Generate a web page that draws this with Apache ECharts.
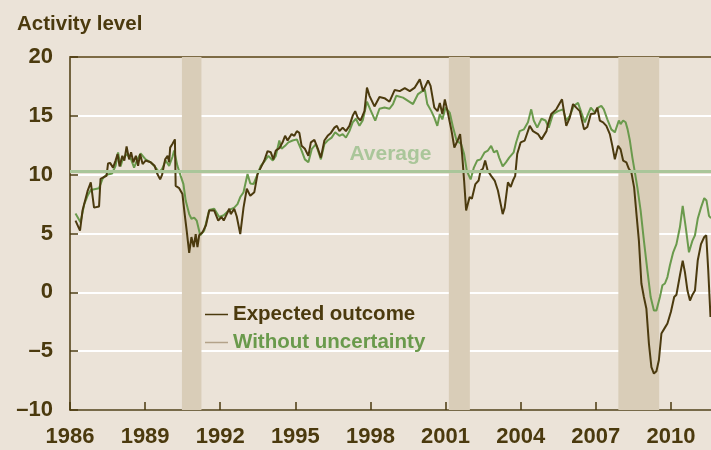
<!DOCTYPE html>
<html><head><meta charset="utf-8">
<script src="https://cdn.jsdelivr.net/npm/echarts@6/dist/echarts.min.js"></script>
<style>html,body{margin:0;padding:0;background:#ebe3d8;}#c{width:711px;height:450px;}</style>
</head><body><div id="c"></div>
<script>
const expectedYears = [1986.22,1986.4,1986.5,1986.7,1986.83,1986.9,1986.96,1987.16,1987.22,1987.35,1987.46,1987.52,1987.6,1987.72,1987.82,1987.9,1987.98,1988.09,1988.17,1988.26,1988.36,1988.44,1988.53,1988.63,1988.72,1988.8,1988.9,1989.02,1989.22,1989.38,1989.49,1989.6,1989.68,1989.8,1989.9,1989.96,1990.0,1990.09,1990.19,1990.22,1990.36,1990.49,1990.58,1990.66,1990.76,1990.85,1990.94,1991.02,1991.09,1991.16,1991.29,1991.43,1991.56,1991.76,1991.92,1992.05,1992.14,1992.36,1992.42,1992.56,1992.66,1992.8,1992.93,1993.06,1993.2,1993.36,1993.49,1993.62,1993.76,1993.89,1994.02,1994.12,1994.22,1994.36,1994.49,1994.59,1994.69,1994.85,1994.96,1995.06,1995.16,1995.25,1995.38,1995.52,1995.62,1995.76,1995.9,1996.02,1996.16,1996.29,1996.42,1996.56,1996.66,1996.76,1996.89,1997.02,1997.16,1997.29,1997.39,1997.49,1997.6,1997.76,1997.86,1997.96,1998.16,1998.36,1998.56,1998.76,1998.97,1999.17,1999.37,1999.57,1999.77,1999.97,2000.1,2000.3,2000.4,2000.55,2000.68,2000.77,2000.87,2000.97,2001.1,2001.24,2001.35,2001.48,2001.58,2001.66,2001.74,2001.82,2001.96,2002.05,2002.19,2002.32,2002.4,2002.49,2002.58,2002.68,2002.82,2002.96,2003.09,2003.23,2003.28,2003.36,2003.49,2003.6,2003.69,2003.78,2003.86,2004.0,2004.16,2004.36,2004.49,2004.69,2004.83,2005.03,2005.09,2005.22,2005.42,2005.65,2005.82,2005.96,2006.09,2006.22,2006.36,2006.53,2006.66,2006.8,2006.96,2007.06,2007.16,2007.29,2007.42,2007.56,2007.66,2007.76,2007.89,2007.99,2008.09,2008.22,2008.32,2008.42,2008.53,2008.63,2008.72,2008.82,2008.92,2009.02,2009.12,2009.22,2009.32,2009.42,2009.52,2009.62,2009.76,2009.86,2010.0,2010.13,2010.22,2010.36,2010.47,2010.56,2010.66,2010.76,2010.86,2010.96,2011.07,2011.2,2011.33,2011.41,2011.49,2011.58];
const expectedValues = [6.1,5.25,6.95,8.6,9.35,9.5,7.2,7.3,9.65,9.8,9.9,10.95,11.0,10.6,11.2,11.75,10.7,11.6,11.2,12.4,11.3,11.9,11.05,11.6,10.75,11.75,10.9,11.2,11.05,10.75,10.05,9.6,10.0,11.3,11.6,11.05,12.3,12.6,13.0,9.05,8.85,8.35,6.65,5.25,3.35,4.7,3.85,4.95,3.85,4.85,5.1,5.7,6.95,6.95,6.1,6.4,6.1,7.1,6.65,7.1,6.45,4.95,7.2,8.8,8.2,8.5,10.05,10.6,11.2,12.0,11.9,11.3,12.05,12.25,12.75,13.3,12.9,13.45,13.3,13.7,13.55,12.45,12.2,11.6,12.75,12.95,12.2,11.45,12.9,13.3,13.55,14.0,14.15,13.7,14.0,13.7,14.15,15.0,15.4,14.85,14.6,15.4,17.4,16.7,15.8,16.6,16.5,16.2,17.2,17.1,17.35,17.1,17.4,18.1,17.1,18.0,17.55,15.7,15.4,16.1,15.15,16.4,15.15,13.7,12.3,12.9,13.45,11.75,9.5,6.95,8.1,7.95,9.2,9.5,10.35,10.5,11.2,10.35,9.9,9.5,8.65,7.2,6.65,7.2,9.35,8.95,9.5,9.9,11.75,12.75,12.9,14.15,13.7,13.45,13.0,13.7,14.3,15.15,15.55,16.4,14.15,14.85,16.0,15.7,15.4,13.85,14.05,15.15,15.2,15.7,14.6,14.45,14.15,13.45,12.45,11.3,12.45,12.15,11.2,11.05,10.5,10.2,8.9,6.5,4.4,0.75,-0.4,-1.4,-4.35,-6.35,-6.9,-6.7,-5.75,-3.5,-3.0,-2.65,-1.65,-0.4,-0.2,1.45,2.7,1.7,0.15,-0.7,-0.2,0.15,2.7,4.1,4.7,4.85,1.85,-2.1];

const noUncYears = [1986.22,1986.42,1986.57,1986.7,1986.83,1987.16,1987.3,1987.46,1987.68,1987.82,1987.92,1988.02,1988.09,1988.26,1988.44,1988.56,1988.69,1988.82,1989.02,1989.22,1989.42,1989.56,1989.68,1989.82,1989.96,1990.09,1990.16,1990.29,1990.42,1990.53,1990.62,1990.76,1990.85,1990.96,1991.06,1991.2,1991.36,1991.56,1991.76,1991.96,1992.14,1992.36,1992.56,1992.69,1992.8,1992.93,1993.09,1993.2,1993.33,1993.49,1993.62,1993.79,1993.92,1994.1,1994.22,1994.36,1994.45,1994.59,1994.72,1994.89,1995.06,1995.25,1995.38,1995.52,1995.66,1995.82,1996.02,1996.16,1996.29,1996.45,1996.59,1996.76,1996.89,1997.02,1997.16,1997.29,1997.42,1997.56,1997.69,1997.86,1997.99,1998.19,1998.36,1998.56,1998.76,1998.9,1999.03,1999.3,1999.7,1999.9,2000.17,2000.27,2000.43,2000.55,2000.67,2000.77,2000.87,2001.0,2001.17,2001.3,2001.44,2001.62,2001.74,2001.85,2002.0,2002.13,2002.26,2002.4,2002.56,2002.69,2002.82,2002.93,2003.05,2003.14,2003.28,2003.41,2003.54,2003.72,2003.82,2003.96,2004.13,2004.29,2004.42,2004.52,2004.66,2004.83,2004.99,2005.12,2005.29,2005.49,2005.69,2005.82,2005.96,2006.12,2006.29,2006.42,2006.56,2006.69,2006.8,2006.96,2007.09,2007.22,2007.32,2007.46,2007.62,2007.76,2007.92,2007.99,2008.09,2008.19,2008.27,2008.36,2008.46,2008.56,2008.66,2008.79,2008.92,2009.06,2009.19,2009.32,2009.42,2009.56,2009.66,2009.76,2009.86,2009.96,2010.09,2010.22,2010.36,2010.47,2010.59,2010.72,2010.86,2010.96,2011.07,2011.2,2011.33,2011.42,2011.52,2011.6];
const noUncValues = [6.7,5.95,7.5,8.2,8.7,8.85,9.65,10.0,10.1,10.75,11.9,10.7,11.2,11.75,11.3,10.6,11.3,11.8,11.3,11.05,10.6,10.2,10.5,11.2,10.75,11.5,12.05,10.75,9.9,9.2,7.8,6.65,6.25,6.35,6.1,4.85,5.25,7.0,7.1,6.4,6.55,7.0,7.2,7.5,8.1,8.5,10.05,9.25,9.2,10.05,10.75,11.2,11.6,11.2,11.6,12.9,12.2,12.45,12.75,12.9,13.0,12.05,11.3,11.05,12.2,12.6,11.3,12.6,12.9,13.15,13.6,13.3,13.45,13.15,13.7,14.45,14.75,14.15,14.6,16.2,15.55,14.6,15.6,15.7,15.6,16.0,16.7,16.55,16.0,16.85,17.25,16.0,15.4,14.85,14.15,15.15,14.7,15.7,15.25,14.0,12.9,12.6,11.75,10.3,9.6,10.6,11.2,11.3,11.9,12.05,12.45,11.9,12.05,11.45,10.7,11.05,11.45,11.9,12.75,13.7,13.85,14.45,15.55,14.6,14.0,14.75,14.6,14.0,15.15,15.4,15.55,14.6,15.0,15.85,16.1,15.3,14.45,15.15,15.7,15.3,15.7,15.85,15.55,14.7,13.85,13.6,14.6,14.3,14.6,14.45,13.85,12.9,11.45,10.2,8.9,6.95,4.4,1.85,-0.4,-1.55,-1.55,-0.4,0.6,0.75,1.3,2.3,3.4,4.1,5.55,7.35,5.55,3.4,4.4,4.85,6.25,7.2,8.0,7.8,6.5,6.3];

const recessionStart = [1990.47, 2001.13, 2007.9];
const recessionEnd = [1991.25, 2001.97, 2009.53];
const averageValue = 10.25;
const yTicks = [-10, -5, 0, 5, 10, 15, 20];
const xTickYears = [1986, 1989, 1992, 1995, 1998, 2001, 2004, 2007, 2010];

const zip = (a, b) => a.map((x, i) => [x, b[i]]);
const dark = '#4b3a0e';
const green = '#6a9a4c';
const font = '"Liberation Sans Narrow", "Liberation Sans", sans-serif';

const chart = echarts.init(document.getElementById('c'));
chart.setOption({
  backgroundColor: '#ebe3d8',
  animation: false,
  textStyle: { fontFamily: font },
  title: {
    text: 'Activity level', left: 12, top: 9,
    textStyle: { fontFamily: font, fontWeight: 'bold', fontSize: 20.5, color: dark }
  },
  grid: { left: 70, right: 0, top: 57, bottom: 40 },
  legend: {
    orient: 'vertical', left: 200, top: 299, icon: 'rect',
    itemWidth: 23, itemHeight: 1.5, itemGap: 7,
    textStyle: { fontFamily: font, fontWeight: 'bold', fontSize: 20.5 },
    data: [
      { name: 'Expected outcome', itemStyle: { color: dark }, textStyle: { color: dark } },
      { name: 'Without uncertainty', itemStyle: { color: '#b3a289' }, textStyle: { color: green } }
    ]
  },
  xAxis: [{
    type: 'value', min: 1986, max: 2011.6, interval: 3,
    axisLine: { show: true, onZero: false, lineStyle: { color: dark, width: 1.5 } },
    axisTick: { show: true, inside: true, length: 8, lineStyle: { color: dark, width: 1.5 } },
    splitLine: { show: false },
    axisLabel: {
      showMaxLabel: false, margin: 16, color: dark, fontSize: 22, fontWeight: 'bold', fontFamily: font,
      formatter: v => xTickYears.indexOf(v) >= 0 ? String(v) : ''
    }
  }, {
    type: 'value', position: 'top', min: 1986, max: 2011.6,
    axisLine: { show: true, onZero: false, lineStyle: { color: '#7d6b45', width: 2 } },
    axisTick: { show: false }, axisLabel: { show: false }, splitLine: { show: false }
  }],
  yAxis: {
    type: 'value', min: -10, max: 20, interval: 5,
    axisLine: { show: true, lineStyle: { color: dark, width: 1.5 } },
    axisTick: { show: true, inside: true, length: 8, lineStyle: { color: dark, width: 1.5 } },
    splitLine: { show: true, lineStyle: { color: '#ffffff', width: 2 } },
    axisLabel: {
      margin: 17, color: dark, fontSize: 22, fontWeight: 'bold', fontFamily: font,
      formatter: v => yTicks.indexOf(v) >= 0 ? String(v).replace('-', '\u2013') : ''
    }
  },
  series: [{
    name: 'Without uncertainty', type: 'line', symbol: 'none', z: 3,
    data: zip(noUncYears, noUncValues),
    lineStyle: { color: green, width: 2 }, itemStyle: { color: green },
    markArea: {
      silent: true, itemStyle: { color: '#d9cdb8', opacity: 1 },
      data: recessionStart.map((s, i) => [{ xAxis: s }, { xAxis: recessionEnd[i] }])
    },
    markLine: {
      silent: true, symbol: 'none',
      lineStyle: { color: '#aac69a', width: 3, type: 'solid' },
      label: {
        show: true, position: 'insideMiddleTop', formatter: 'Average', distance: 7,
        color: '#aac69a', fontSize: 21, fontWeight: 'bold', fontFamily: font
      },
      data: [{ yAxis: averageValue }]
    }
  }, {
    name: 'Expected outcome', type: 'line', symbol: 'none', z: 4,
    data: zip(expectedYears, expectedValues),
    lineStyle: { color: dark, width: 2 }, itemStyle: { color: dark }
  }]
});
</script></body></html>
